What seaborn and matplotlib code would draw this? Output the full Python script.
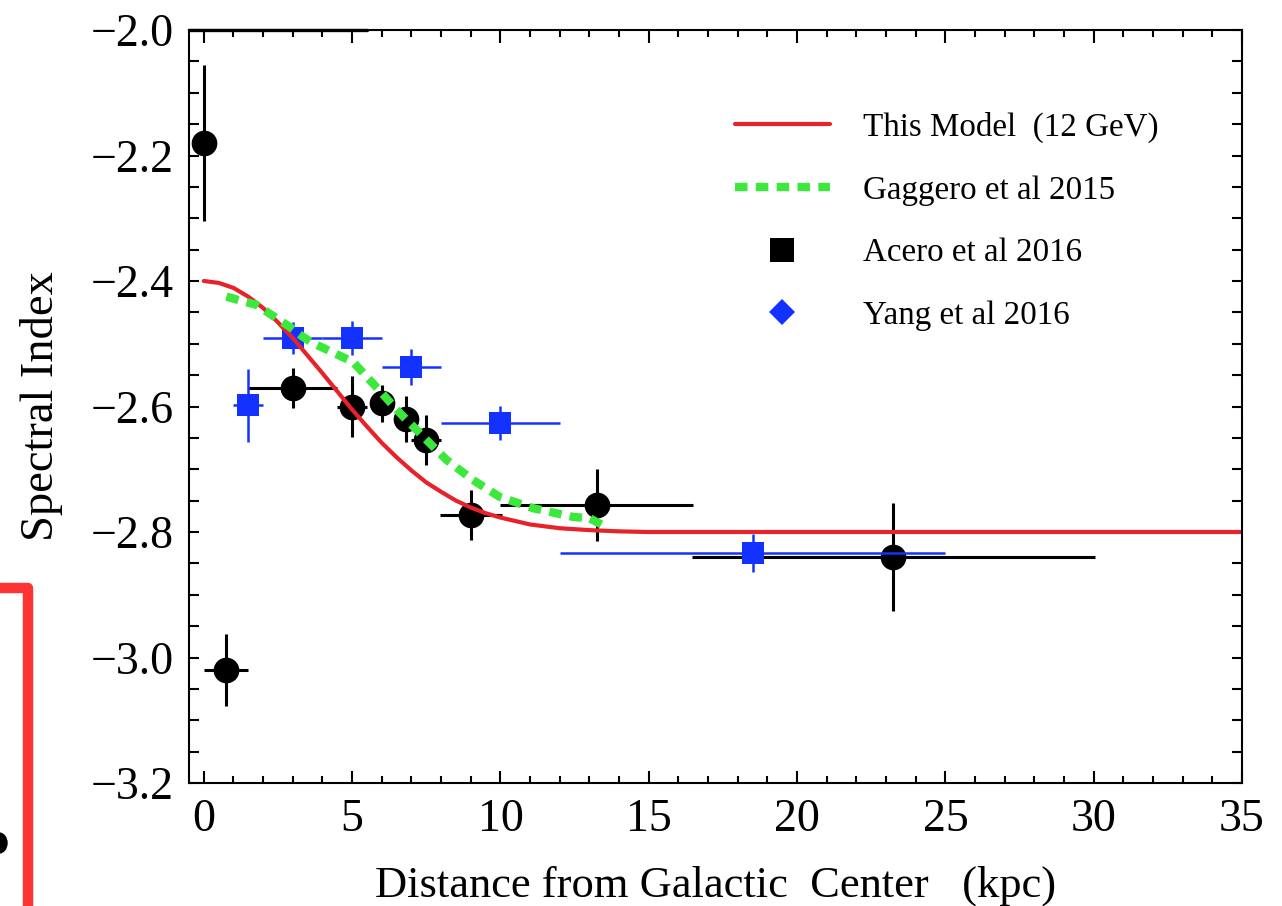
import matplotlib
matplotlib.use("Agg")
import numpy as np
import pandas as pd
import seaborn as sns
import matplotlib.pyplot as plt
from matplotlib.lines import Line2D
from matplotlib.patches import Ellipse
from matplotlib.ticker import MultipleLocator, FuncFormatter

# ---- data -------------------------------------------------------------
# This model (12 GeV): spectral index vs galactocentric distance
model_r = [0.0, 0.5, 1.0, 1.5, 2.0, 2.5, 3.0, 3.5, 4.0, 4.5, 5.0, 5.5, 6.0,
           6.5, 7.0, 7.5, 8.0, 8.5, 9.0, 9.5, 10.0, 11.0, 12.0, 13.0, 14.0,
           15.0, 35.0]
model_idx = [-2.400, -2.403, -2.411, -2.425, -2.443, -2.466, -2.491, -2.519,
             -2.547, -2.576, -2.605, -2.632, -2.658, -2.681, -2.702, -2.721,
             -2.736, -2.750, -2.761, -2.770, -2.777, -2.788, -2.794, -2.797,
             -2.799, -2.800, -2.800]

# Gaggero et al 2015
gag_r = [0.76, 1.77, 2.89, 3.34, 3.68, 5.03, 5.93, 6.6, 7.5, 8.18, 9.07,
         9.97, 11.1, 12.45, 13.0, 13.4]
gag_idx = [-2.425, -2.438, -2.473, -2.489, -2.499, -2.529, -2.575, -2.610,
           -2.653, -2.685, -2.717, -2.744, -2.762, -2.776, -2.778, -2.788]

# Acero et al 2016
acero_r = [0.0, 0.75, 3.0, 5.0, 6.0, 6.8, 7.5, 9.0, 13.25, 23.25]
acero_idx = [-2.18, -3.02, -2.57, -2.60, -2.595, -2.62, -2.653, -2.773,
             -2.757, -2.84]
acero_rerr = [0.0, 0.75, 1.5, 0.5, 0.3, 0.3, 0.5, 1.05, 3.25, 6.8]
acero_ierr = [0.125, 0.058, 0.032, 0.048, 0.03, 0.037, 0.04, 0.04, 0.058,
              0.086]

# Yang et al 2016
yang_r = [1.5, 3.0, 5.0, 7.0, 10.0, 18.5]
yang_idx = [-2.598, -2.491, -2.491, -2.537, -2.626, -2.833]
yang_rerr = [0.5, 1.0, 1.0, 1.0, 2.0, 6.5]
yang_ierr = [0.058, 0.026, 0.027, 0.028, 0.027, 0.03]

legend_labels = ["This Model  (12 GeV)", "Gaggero et al 2015",
                 "Acero et al 2016", "Yang et al 2016"]

# ---- style ------------------------------------------------------------
RED = "#e8222b"
GREEN = "#3be83b"
BLUE = "#1432ff"
RED_LW = 3.0
GREEN_LW = 6.0

sns.set_theme(style="ticks", rc={
    "axes.edgecolor": "black",
    "text.color": "black",
    "xtick.color": "black",
    "ytick.color": "black",
    "axes.labelcolor": "black",
})
plt.rcParams["font.family"] = ["Liberation Serif", "DejaVu Serif"]

W, H = 1282, 906
fig = plt.figure(figsize=(W / 100, H / 100), dpi=100)
ax_l, ax_r, ax_t, ax_b = 189, 1242, 30, 783
ax = fig.add_axes([ax_l / W, 1 - ax_b / H, (ax_r - ax_l) / W, (ax_b - ax_t) / H])

# measurements with error bars
ax.errorbar(acero_r, acero_idx, xerr=acero_rerr, yerr=acero_ierr, fmt="o",
            ms=18.5, mew=0, color="black", elinewidth=2.2, capsize=0, zorder=2)
ax.errorbar(yang_r, yang_idx, xerr=yang_rerr, yerr=yang_ierr, fmt="s",
            ms=16.5, mew=0, color=BLUE, elinewidth=1.8, capsize=0, zorder=3)

# model curves
sns.lineplot(x=model_r, y=model_idx, ax=ax, color=RED,
             estimator=None, sort=False, zorder=4)
red_line = ax.lines[-1]
red_line.set_linewidth(RED_LW)
sns.lineplot(x=gag_r, y=gag_idx, ax=ax, color=GREEN,
             estimator=None, sort=False, zorder=5)
green_line = ax.lines[-1]
green_line.set_linewidth(GREEN_LW)
green_line.set_dashes([1.5, 1.0])
green_line.set_dash_capstyle("butt")

# ---- axes -------------------------------------------------------------
ax.set_xlim(-0.5, 35)
ax.set_ylim(-3.2, -2.0)
ax.xaxis.set_major_locator(MultipleLocator(5))
ax.xaxis.set_minor_locator(MultipleLocator(1))
ax.yaxis.set_major_locator(MultipleLocator(0.2))
ax.yaxis.set_minor_locator(MultipleLocator(0.05))
ax.xaxis.set_major_formatter(FuncFormatter(lambda v, p: f"{v:.0f}"))
ax.yaxis.set_major_formatter(
    FuncFormatter(lambda v, p: f"{v:.1f}".replace("-", "\u2212")))

ax.tick_params(which="both", direction="in", top=True, right=True,
               width=1.5, labelsize=33, pad=11)
ax.tick_params(axis="x", which="major", length=9)
ax.tick_params(axis="x", which="minor", length=5)
ax.tick_params(axis="y", which="both", length=7)
for s in ax.spines.values():
    s.set_visible(True)
    s.set_linewidth(1.5)
    s.set_color("black")
    s.set_zorder(6)

ax.set_xlabel("Distance from Galactic  Center   (kpc)", fontsize=32, labelpad=18)
ax.set_ylabel("Spectral Index", fontsize=33.5, labelpad=20)

# heavier left part of the top frame
ax.add_line(Line2D([0, (367 - ax_l) / (ax_r - ax_l)], [1, 1],
                   transform=ax.transAxes, color="black", lw=2.4,
                   clip_on=False, zorder=7))

# ---- legend -----------------------------------------------------------
handles = [
    Line2D([], [], color=RED, lw=RED_LW),
    Line2D([], [], color=GREEN, lw=GREEN_LW, dashes=(1.5, 1.0),
           dash_capstyle="butt"),
    Line2D([], [], color="black", marker="s", ms=17, mew=0, ls="none"),
    Line2D([], [], color=BLUE, marker="D", ms=13.5, mew=0, ls="none"),
]
ax.legend(handles, legend_labels, loc="upper left",
          bbox_to_anchor=((735 - ax_l) / (ax_r - ax_l), (ax_b - 112) / (ax_b - ax_t)),
          frameon=False, fontsize=23.8, handlelength=2.87, handletextpad=1.0,
          labelspacing=0.97, borderpad=0, borderaxespad=0)

# ---- marks at the left margin ------------------------------------------
fig.add_artist(Line2D([-0.01, 27.5 / W, 27.5 / W],
                      [1 - 588 / H, 1 - 588 / H, -0.02],
                      transform=fig.transFigure, color="#fd3434", lw=7.5,
                      solid_joinstyle="round"))
fig.add_artist(Ellipse((-1 / W, 1 - 843 / H), 16 / W, 20 / H,
                       transform=fig.transFigure, color="black"))

fig.savefig("out.png", dpi=100)
